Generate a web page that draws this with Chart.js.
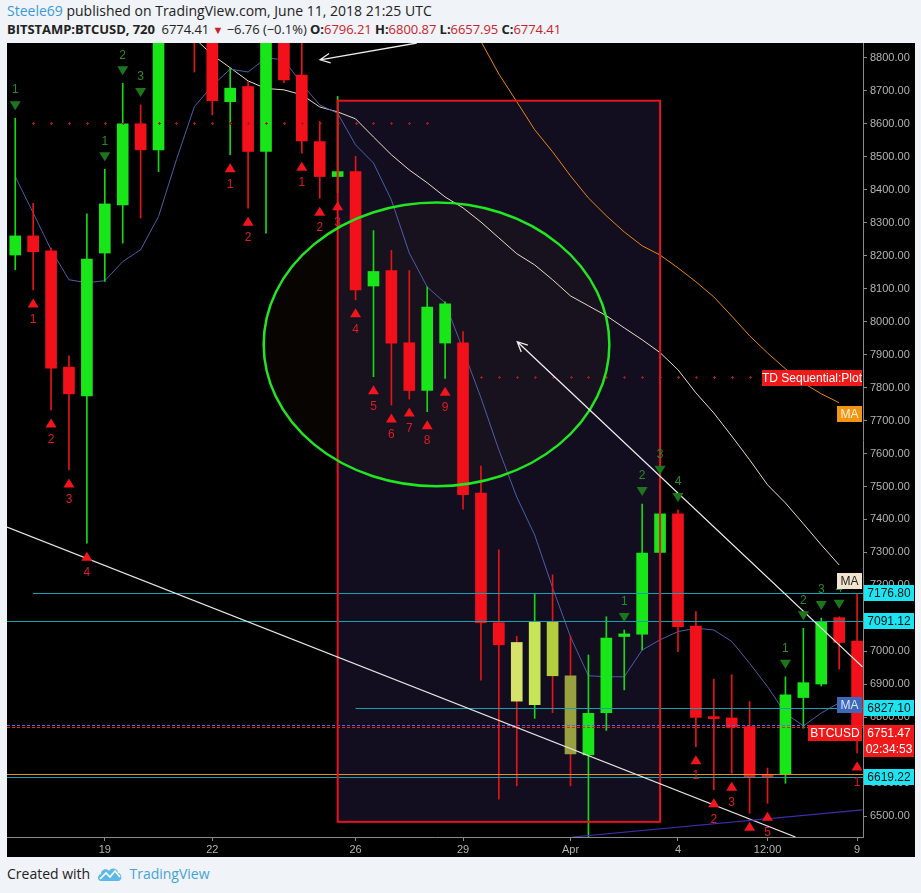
<!DOCTYPE html>
<html>
<head>
<meta charset="utf-8">
<script src="https://cdn.jsdelivr.net/npm/chart.js@4.4.0/dist/chart.umd.min.js"></script>
<style>
  body { margin: 0; background: #f0f3f7; width: 921px; height: 893px; overflow: hidden; font-family: 'Open Sans', sans-serif; }
  #hdr1 { position: absolute; left: 7px; top: 1px; font-size: 14px; color: #222; white-space: nowrap; }
  #hdr1 .user { color: #3a9ad9; }
  #hdr2 { position: absolute; left: 7px; top: 20px; font-size: 13px; color: #222; white-space: nowrap; letter-spacing: -0.05px; }
  #hdr2 b { font-weight: 700; }
  #hdr2 .r { color: #c8232c; }
  #hdr2 .tri { color: #c8232c; font-size: 11px; }
  #wrap { position: absolute; left: 7px; top: 43px; width: 908px; height: 814px; background: #000; }
  #foot { position: absolute; left: 7px; top: 864px; font-size: 14px; color: #222; white-space: nowrap; display: flex; align-items: center; }
  #foot .tv { color: #45a3da; margin-left: 6px; }
</style>
</head>
<body>
<div id="hdr1"><span class="user">Steele69</span> published on TradingView.com, June 11, 2018 21:25 UTC</div>
<div id="hdr2"><b>BITSTAMP:BTCUSD, 720</b>&nbsp; 6774.41 <span class="tri">&#9660;</span> &minus;6.76 (&minus;0.1%) <b>O:</b><span class="r">6796.21</span> <b>H:</b><span class="r">6800.87</span> <b>L:</b><span class="r">6657.95</span> <b>C:</b><span class="r">6774.41</span></div>
<div id="wrap"><canvas id="grafica" width="908" height="814"></canvas></div>
<div id="foot">Created with&nbsp;&nbsp;<svg width="26" height="16" viewBox="0 0 26 16"><path d="M4 15 C0 15 0 9 4 8 C4 3 10 2 12 5 C14 1 21 2 21 7 C25 7 26 15 21 15 Z" fill="#5db8e8"/><path d="M3 13 L9 7 L13 11 L18 5 L23 11" stroke="#fff" stroke-width="1.6" fill="none"/></svg><span class="tv">TradingView</span></div>

<script>
// --- Eje X (una vela cada 12h, desde 16 mar 12:00) ---
const xTickIdx = [5, 11, 19, 25, 31, 37, 42, 47];
const xTickText = ['19', '22', '26', '29', 'Apr', '4', '12:00', '9'];
const yTicks = [6500, 6600, 6700, 6800, 6900, 7000, 7100, 7200, 7300, 7400, 7500, 7600,
                7700, 7800, 7900, 8000, 8100, 8200, 8300, 8400, 8500, 8600, 8700, 8800];

// --- Velas OHLC ---
const opens  = [8202, 8260, 8215, 7862, 7775, 8208, 8354, 8600, 8521, 8900, 8980, 8920,
                8667, 8713, 8516, 8900, 8748, 8546, 8440, 8455, 8108, 8155, 7936, 7791,
                7935, 7936, 7480, 7087, 7027, 6838, 7091, 6926, 6686, 6814, 7045, 7052,
                7300, 7417, 7077, 6798, 6798, 6772, 6623, 6628, 6860, 6901, 7102, 7031];
const highs  = [8617, 8359, 8223, 7896, 8327, 8462, 8723, 8657, 8960, 9050, 9100, 8990,
                8769, 8728, 8930, 8960, 8890, 8607, 8683, 8501, 8276, 8216, 8155, 8105,
                8060, 7970, 7562, 7308, 7046, 7176, 7232, 7047, 6989, 7105, 7065, 7447,
                7511, 7429, 7121, 6916, 6929, 6848, 6646, 6923, 7070, 7101, 7105, 7176];
const lows   = [8157, 8096, 7732, 7550, 7328, 8122, 8238, 8314, 8455, 8870, 8757, 8627,
                8506, 8344, 8268, 8725, 8511, 8374, 8391, 8066, 7833, 7747, 7765, 7727,
                7828, 7431, 6913, 6552, 6592, 6797, 6814, 6592, 6420, 6760, 6883, 7004,
                7290, 6999, 6711, 6580, 6630, 6509, 6539, 6600, 6767, 6895, 6946, 6692];
const closes = [8260, 8212, 7859, 7781, 8190, 8357, 8600, 8521, 8900, 8980, 8920, 8670,
                8708, 8516, 8900, 8733, 8548, 8440, 8455, 8096, 8152, 7935, 7791, 8044,
                8054, 7475, 7087, 7020, 6849, 7091, 6926, 6689, 6812, 7040, 7053, 7298,
                7417, 7075, 6800, 6796, 6770, 6620, 6618, 6868, 6905, 7090, 7027, 6774];

// --- Medias móviles ---
const maFast = [8440, 8330, 8218, 8127, 8118, 8124, 8182, 8218, 8319, 8491, 8652, 8715,
                8766, 8757, 8800, 8794, 8721, 8657, 8632, 8536, 8481, 8369, 8208, 8105,
                8057, 7915, 7769, 7611, 7468, 7353, 7193, 7044, 6926, 6923, 6923, 7004,
                7035, 7060, 7070, 7065, 7030, 6964, 6893, 6812, 6774, 6813, 6844, null];
const maMid  = [null, null, null, null, null, null, null, null, null, null, 8860, 8809,
                8770, 8730, 8707, 8703, 8688, 8651, 8636, 8615, 8560, 8506, 8460, 8421,
                8378, 8345, 8302, 8254, 8206, 8172, 8127, 8078, 8048, 8018, 7981, 7945,
                7906, 7854, 7784, 7723, 7653, 7581, 7505, 7450, 7387, 7323, 7262, null];
const maSlow = [null, null, null, null, null, null, null, null, null, null, null, null,
                null, null, null, null, null, null, null, null, null, null, null, null,
                null, 8940, 8850, 8751, 8667, 8582, 8515, 8442, 8375, 8321, 8272, 8230,
                8202, 8163, 8121, 8075, 8017, 7957, 7905, 7857, 7814, 7781, 7754, null];

// --- TD Sequential ---
const tdSellIdx = [0, 5, 6, 7, 34, 35, 36, 37, 43, 44, 45, 46];
const tdSellNum = [1, 1, 2, 3, 1, 2, 3, 4, 1, 2, 3, 4];
const tdBuyIdx  = [1, 2, 3, 4, 12, 13, 16, 17, 18, 19, 20, 21, 22, 23, 24, 38, 39, 40, 41, 42, 47];
const tdBuyNum  = [1, 2, 3, 4, 1, 2, 1, 2, 3, 4, 5, 6, 7, 8, 9, 1, 2, 3, 4, 5, 1];
const tdDotPrice = [8603, 7832];
const tdDotFrom  = [1, 26];
const tdDotTo    = [23, 41];

// --- Dibujos ---
const nivelesPrecio = [7176.80, 7091.12, 6827.10, 6619.22];
const nivelesDesde  = [1, -1, 19, -1];
const nivelNaranja = 6628;
const precioActual = 6774.41;
const precioEtiqueta = 6751.47;
const cajaIdx = [18, 36];
const cajaPrecio = [8670, 6483];
const elipseCentro = [23.52, 7931];
const elipseRadio = [9.65, 430];
const tendBlanca = [[-0.46, 7377], [43.56, 6437]];
const tendMorada = [[31.1, 6437], [47.3, 6519]];
const flechaA = [[47.3, 6953], [28.03, 7939]];
const flechaB = [[22.42, 8845], [17.02, 8794]];
const etiquetaMA = [7721, 7214, 6838];
const etiquetaTD = 7830;

const VERDE = '#19e619', ROJO = '#f2101a';
const tinteCuerpo = { 28: '#d5e36b', 29: '#c7e556', 30: '#b3cd3f', 31: '#99a03f' };
const FUENTE = "'Liberation Sans', Arial, sans-serif";

const esAlcista = i => closes[i] >= opens[i];

const anotaciones = {
    id: 'anotaciones',
    beforeDatasetsDraw(chart) {
        const { ctx, chartArea: a, scales: { x, y } } = chart;
        ctx.save();
        ctx.beginPath(); ctx.rect(a.left, a.top, a.right - a.left, a.bottom - a.top); ctx.clip();
        // relleno de la caja
        const x1 = x.getPixelForValue(cajaIdx[0]), x2 = x.getPixelForValue(cajaIdx[1]);
        const y1 = y.getPixelForValue(cajaPrecio[0]), y2 = y.getPixelForValue(cajaPrecio[1]);
        ctx.fillStyle = '#120e1f';
        ctx.fillRect(x1, y1, x2 - x1, y2 - y1);
        // relleno de la elipse
        const cx = x.getPixelForValue(elipseCentro[0]), cy = y.getPixelForValue(elipseCentro[1]);
        const rx = x.getPixelForValue(elipseCentro[0] + elipseRadio[0]) - cx;
        const ry = cy - y.getPixelForValue(elipseCentro[1] + elipseRadio[1]);
        ctx.beginPath(); ctx.ellipse(cx, cy, rx, ry, 0, 0, Math.PI * 2);
        ctx.fillStyle = 'rgba(120,60,30,0.07)'; ctx.fill();
        ctx.restore();
    },
    afterDatasetsDraw(chart) {
        const { ctx, chartArea: a, scales: { x, y } } = chart;
        const px = v => x.getPixelForValue(v), py = v => y.getPixelForValue(v);
        ctx.save();
        ctx.beginPath(); ctx.rect(a.left, a.top, a.right - a.left, a.bottom - a.top); ctx.clip();

        // líneas horizontales
        ctx.lineWidth = 1;
        ctx.strokeStyle = '#e8901c';
        ctx.beginPath(); ctx.moveTo(a.left, Math.round(py(nivelNaranja)) + 0.5); ctx.lineTo(a.right, Math.round(py(nivelNaranja)) + 0.5); ctx.stroke();
        ctx.strokeStyle = '#14a2b2';
        nivelesPrecio.forEach((p, k) => {
            const yy = Math.round(py(p)) + 0.5;
            const xs = nivelesDesde[k] < 0 ? a.left : px(nivelesDesde[k]);
            ctx.beginPath(); ctx.moveTo(xs, yy); ctx.lineTo(a.right, yy); ctx.stroke();
        });
        // línea de precio punteada
        const yp = Math.round(py(precioActual));
        ctx.setLineDash([3, 2]);
        ctx.strokeStyle = '#5468f0';
        ctx.beginPath(); ctx.moveTo(a.left, yp - 0.5); ctx.lineTo(a.right, yp - 0.5); ctx.stroke();
        ctx.strokeStyle = '#ff1a1a';
        ctx.beginPath(); ctx.moveTo(a.left, yp + 1.5); ctx.lineTo(a.right, yp + 1.5); ctx.stroke();
        ctx.setLineDash([]);

        // puntos TD
        ctx.fillStyle = '#a8161c';
        tdDotPrice.forEach((p, k) => {
            for (let i = tdDotFrom[k]; i <= tdDotTo[k]; i++) {
                const xx = Math.round(px(i)), yy = Math.round(py(p));
                ctx.fillRect(xx - 1, yy, 3, 1);
                ctx.fillRect(xx, yy - 1, 1, 3);
            }
        });

        // caja roja
        const x1 = px(cajaIdx[0]), x2 = px(cajaIdx[1]);
        const y1 = py(cajaPrecio[0]), y2 = py(cajaPrecio[1]);
        ctx.strokeStyle = '#e5141e'; ctx.lineWidth = 2;
        ctx.strokeRect(x1, y1, x2 - x1, y2 - y1);

        // elipse verde
        const cx = px(elipseCentro[0]), cy = py(elipseCentro[1]);
        const rx = px(elipseCentro[0] + elipseRadio[0]) - cx;
        const ry = cy - py(elipseCentro[1] + elipseRadio[1]);
        ctx.beginPath(); ctx.ellipse(cx, cy, rx, ry, 0, 0, Math.PI * 2);
        ctx.strokeStyle = '#22e622'; ctx.lineWidth = 2.5; ctx.stroke();

        // líneas de tendencia
        ctx.lineWidth = 1.2;
        ctx.strokeStyle = '#e6e6e6';
        ctx.beginPath(); ctx.moveTo(px(tendBlanca[0][0]), py(tendBlanca[0][1])); ctx.lineTo(px(tendBlanca[1][0]), py(tendBlanca[1][1])); ctx.stroke();
        ctx.strokeStyle = '#3a2fa8';
        ctx.beginPath(); ctx.moveTo(px(tendMorada[0][0]), py(tendMorada[0][1])); ctx.lineTo(px(tendMorada[1][0]), py(tendMorada[1][1])); ctx.stroke();

        // flechas
        [flechaA, flechaB].forEach(f => {
            const sx = px(f[0][0]), sy = py(f[0][1]), ex = px(f[1][0]), ey = py(f[1][1]);
            const ang = Math.atan2(ey - sy, ex - sx);
            ctx.strokeStyle = '#eeeeee'; ctx.lineWidth = 1.3;
            ctx.beginPath(); ctx.moveTo(sx, sy); ctx.lineTo(ex, ey);
            ctx.moveTo(ex - 11 * Math.cos(ang - 0.45), ey - 11 * Math.sin(ang - 0.45));
            ctx.lineTo(ex, ey);
            ctx.lineTo(ex - 11 * Math.cos(ang + 0.45), ey - 11 * Math.sin(ang + 0.45));
            ctx.stroke();
        });

        // marcadores TD
        ctx.font = '12px ' + FUENTE;
        ctx.textAlign = 'center'; ctx.textBaseline = 'middle';
        tdBuyIdx.forEach((i, k) => {
            const xx = px(i), yy = py(lows[i]) + 13.5;
            ctx.fillStyle = '#f2151d';
            ctx.beginPath(); ctx.moveTo(xx, yy - 5); ctx.lineTo(xx + 5.5, yy + 4); ctx.lineTo(xx - 5.5, yy + 4); ctx.closePath(); ctx.fill();
            ctx.fillStyle = '#dc1c24';
            ctx.fillText(String(tdBuyNum[k]), xx, yy + 16);
        });
        tdSellIdx.forEach((i, k) => {
            const xx = px(i), yy = py(highs[i]) - 13;
            ctx.fillStyle = '#1c761c';
            ctx.beginPath(); ctx.moveTo(xx, yy + 5); ctx.lineTo(xx + 5.5, yy - 4); ctx.lineTo(xx - 5.5, yy - 4); ctx.closePath(); ctx.fill();
            ctx.fillStyle = '#2a8a2a';
            ctx.fillText(String(tdSellNum[k]), xx, yy - 15);
        });
        ctx.restore();
    },
    afterDraw(chart) {
        const { ctx, chartArea: a, scales: { y } } = chart;
        const py = v => y.getPixelForValue(v);
        ctx.save();
        ctx.font = '12px ' + FUENTE;
        ctx.textBaseline = 'middle'; ctx.textAlign = 'center';
        const caja = (x0, w, yc, fondo, texto, color) => {
            ctx.fillStyle = fondo;
            ctx.fillRect(x0, Math.round(yc) - 8, w, 16);
            ctx.fillStyle = color;
            ctx.fillText(texto, x0 + w / 2, Math.round(yc) + 0.5);
        };
        // etiquetas dentro del gráfico
        caja(a.right - 101, 100, py(etiquetaTD), '#f01a1a', 'TD Sequential:Plot', '#ffffff');
        caja(a.right - 26, 25, py(etiquetaMA[0]), '#f39512', 'MA', '#fff3dc');
        caja(a.right - 26, 25, py(etiquetaMA[1]), '#f3e4cf', 'MA', '#222222');
        caja(a.right - 26, 25, py(etiquetaMA[2]), '#3f68b8', 'MA', '#d8e4ff');
        caja(a.right - 55, 54, py(precioEtiqueta) - 0.5, '#f01818', 'BTCUSD', '#ffffff');
        // etiquetas del eje de precios
        nivelesPrecio.forEach(p => caja(a.right + 1, 50, py(p), '#1de4f2', p.toFixed(2), '#111111'));
        caja(a.right + 1, 50, py(precioEtiqueta), '#f01818', precioEtiqueta.toFixed(2), '#ffffff');
        caja(a.right + 1, 50, py(precioEtiqueta) + 16, '#f01818', '02:34:53', '#ffffff');
        ctx.restore();
    }
};

const cuerpoColor = opens.map((o, i) => tinteCuerpo[i] || (esAlcista(i) ? VERDE : ROJO));
const mechaColor = opens.map((o, i) => esAlcista(i) ? '#16d816' : '#e41414');

const ctx = document.getElementById('grafica').getContext('2d');
new Chart(ctx, {
    type: 'bar',
    data: {
        datasets: [
            { type: 'line', data: maSlow.map((v, i) => ({ x: i, y: v })), borderColor: '#e8860e', borderWidth: 1, pointRadius: 0, order: 5, clip: 0 },
            { type: 'line', data: maMid.map((v, i) => ({ x: i, y: v })), borderColor: '#e9dcc6', borderWidth: 1, pointRadius: 0, order: 4, clip: 0 },
            { type: 'line', data: maFast.map((v, i) => ({ x: i, y: v })), borderColor: '#4d5ea8', borderWidth: 1, pointRadius: 0, order: 3, clip: 0 },
            { data: lows.map((l, i) => ({ x: i, y: [l, highs[i]] })), backgroundColor: mechaColor, barThickness: 1, grouped: false, order: 2, clip: 0 },
            { data: opens.map((o, i) => ({ x: i, y: [o, closes[i]] })), backgroundColor: cuerpoColor, barThickness: 11, grouped: false, minBarLength: 2, order: 1, clip: 0 }
        ]
    },
    options: {
        responsive: false,
        animation: false,
        layout: { padding: 0 },
        plugins: { legend: { display: false }, tooltip: { enabled: false } },
        scales: {
            x: {
                type: 'linear', min: -0.46, max: 47.33, offset: false,
                afterBuildTicks: s => { s.ticks = xTickIdx.map(v => ({ value: v })); },
                ticks: { callback: (v, i) => xTickText[i], color: '#b4b4b4', font: { family: FUENTE, size: 11 }, padding: 2, maxRotation: 0, autoSkip: false },
                grid: { drawOnChartArea: false, tickLength: 4, color: '#8a8a8a', offset: false },
                border: { color: '#8a8a8a' },
                afterFit: s => { s.height = 20; s.paddingLeft = 0; s.paddingRight = 0; }
            },
            y: {
                type: 'linear', position: 'right', min: 6437, max: 8845,
                afterBuildTicks: s => { s.ticks = yTicks.map(v => ({ value: v })); },
                ticks: { callback: v => v.toFixed(2), color: '#b4b4b4', font: { family: FUENTE, size: 11 }, padding: 3 },
                grid: { drawOnChartArea: false, tickLength: 4, color: '#8a8a8a' },
                border: { color: '#8a8a8a' },
                afterFit: s => { s.width = 52; s.paddingTop = 0; s.paddingBottom = 0; }
            }
        }
    },
    plugins: [anotaciones]
});
</script>
</body>
</html>
